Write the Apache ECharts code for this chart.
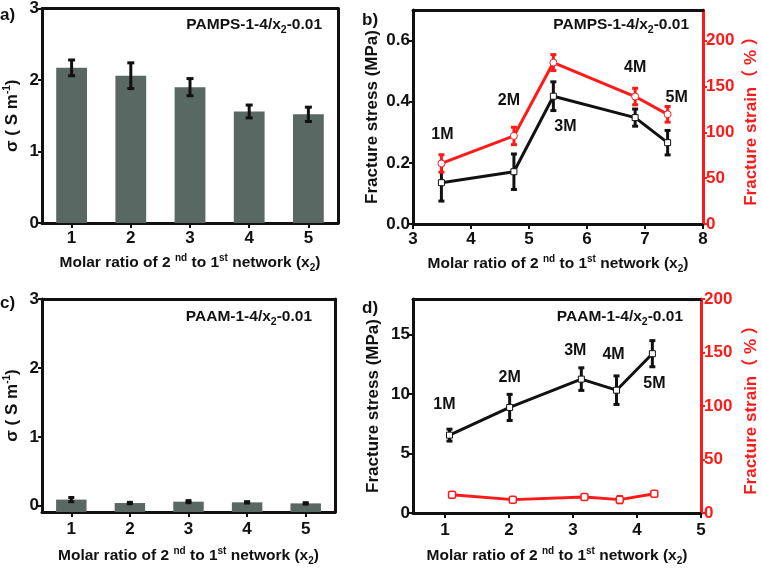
<!DOCTYPE html>
<html><head><meta charset="utf-8">
<script src="https://cdn.jsdelivr.net/npm/echarts@6/dist/echarts.min.js"></script>
<style>html,body{margin:0;padding:0;background:#fff}#c{width:762px;height:569px}</style>
</head><body><div id="c"></div>
<script>
// ---------- data ----------
// Panel a (PAMPS conductivity)
const barCats = ['1', '2', '3', '4', '5'];
const sigmaPAMPS = [2.17, 2.06, 1.90, 1.56, 1.52];
const sigmaPAMPSErr = [0.11, 0.18, 0.12, 0.09, 0.10];
// Panel c (PAAM conductivity)
const sigmaPAAM = [0.09, 0.04, 0.06, 0.05, 0.035];
const sigmaPAAMErr = [0.03, 0.01, 0.015, 0.01, 0.01];
// Panel b (PAMPS mechanics)
const molLabels = ['1M', '2M', '3M', '4M', '5M'];
const pampsX = [3.49, 4.74, 5.42, 6.83, 7.39];
const pampsStress = [0.135, 0.171, 0.418, 0.348, 0.266];
const pampsStressErr = [0.06, 0.058, 0.047, 0.028, 0.04];
const pampsStrain = [66, 96, 176, 139, 119.6];
const pampsStrainErr = [9.5, 9.5, 8.7, 9, 8.5];
// Panel d (PAAM mechanics)
const paamX = [1.07, 2.01, 3.13, 3.68, 4.24];
const paamStress = [6.55, 8.88, 11.26, 10.33, 13.4];
const paamStressErr = [0.5, 1.1, 0.95, 1.2, 1.1];
const paamStrainX = [1.11, 2.06, 3.18, 3.73, 4.27];
const paamStrain = [17, 12.5, 15, 12.5, 18];
const paamStrainErr = [2, 1.5, 1.5, 3, 2];
// axis ticks
const sigmaTicks = [0, 1, 2, 3];
const pampsStressTicks = [0, 0.2, 0.4, 0.6];
const strainTicks = [0, 50, 100, 150, 200];
const paamXTicks = [1, 2, 3, 4, 5];
const paamStressTicks = [0, 5, 10, 15];

// ---------- styles ----------
const FONT = '"Liberation Sans", Arial, "Noto Sans CJK SC", sans-serif';
const BLACK = '#111111';
const RED = '#ff1a1a';
const BAR = '#5a6864';
const TICK_FS = 17;
// label offsets (style) for the nM annotations
const bLabelOffsets = [[1, -48], [-5, -71], [12, 30], [0, -50], [9, -45]];
const dLabelOffsets = [[-5, -31], [0, -30], [-6, -29], [-3, -36], [2, 30]];

function nameStyle(color, fs) {
  return { color: color, fontFamily: FONT, fontWeight: 'bold', fontSize: fs, lineHeight: 20,
    rich: {
      sup: { fontSize: 10, fontWeight: 'bold', fontFamily: FONT, lineHeight: 10, verticalAlign: 'top', color: color },
      sub: { fontSize: 10, fontWeight: 'bold', fontFamily: FONT, lineHeight: 10, verticalAlign: 'bottom', color: color }
    } };
}
const xName = 'Molar ratio of 2 {sup|nd} to 1{sup|st} network (x{sub|2})';

function axisLine(color) { return { show: true, onZero: false, lineStyle: { color: color, width: 3 } }; }

function bottomX(grid, opts, gap) {
  return Object.assign({
    gridIndex: grid, position: 'bottom',
    axisLine: axisLine(BLACK),
    axisTick: { show: true, length: 5, lineStyle: { color: BLACK, width: 2 } },
    axisLabel: { color: BLACK, fontFamily: FONT, fontWeight: 'bold', fontSize: TICK_FS, margin: 7 },
    splitLine: { show: false },
    name: xName, nameLocation: 'middle', nameGap: gap, nameTextStyle: nameStyle(BLACK, 15.5)
  }, opts);
}
function frameX(grid) {
  return { gridIndex: grid, type: 'value', position: 'top', min: 0, max: 1,
    axisLine: axisLine(BLACK), axisTick: { show: false }, axisLabel: { show: false }, splitLine: { show: false } };
}
function frameY(grid) {
  return { gridIndex: grid, type: 'value', position: 'right', min: 0, max: 1,
    axisLine: axisLine(BLACK), axisTick: { show: false }, axisLabel: { show: false }, splitLine: { show: false } };
}
function valueY(grid, pos, color, min, max, ticks, fmt, name, gap) {
  return {
    gridIndex: grid, type: 'value', position: pos, min: min, max: max,
    axisLine: axisLine(color),
    axisTick: { show: true, length: 4, customValues: ticks, lineStyle: { color: color, width: 2 } },
    axisLabel: { color: color, fontFamily: FONT, fontWeight: 'bold', fontSize: TICK_FS, margin: 3,
      customValues: ticks, formatter: fmt },
    splitLine: { show: false },
    name: name, nameLocation: 'middle', nameGap: gap, nameTextStyle: nameStyle(color, 17)
  };
}

function barRender(params, api) {
  const i = api.value(0), v = api.value(1);
  const top = api.coord([i, v]);
  const w = api.size([1, 0])[0] * 0.52;
  const base = params.coordSys.y + params.coordSys.height;
  return { type: 'rect', shape: { x: top[0] - w / 2, y: top[1], width: w, height: base - top[1] },
    style: { fill: BAR } };
}
function errRender(color, cap, lw) {
  return function (params, api) {
    const x = api.value(0), y = api.value(1), e = api.value(2);
    const t = api.coord([x, y + e]), b = api.coord([x, y - e]);
    const st = { stroke: color, lineWidth: lw };
    return { type: 'group', children: [
      { type: 'line', shape: { x1: t[0], y1: t[1], x2: b[0], y2: b[1] }, style: st },
      { type: 'line', shape: { x1: t[0] - cap, y1: t[1], x2: t[0] + cap, y2: t[1] }, style: st },
      { type: 'line', shape: { x1: b[0] - cap, y1: b[1], x2: b[0] + cap, y2: b[1] }, style: st }
    ] };
  };
}
function triples(xs, ys, es) { return ys.map((y, i) => [xs[i], y, es[i]]); }
function idxTriples(ys, es) { return ys.map((y, i) => [i, y, es[i]]); }

const titleRich = { sub: { fontSize: 10.5, fontWeight: 'bold', fontFamily: FONT, color: BLACK, lineHeight: 10, verticalAlign: 'bottom' } };
function panelTitle(text, right, top) {
  return { text: text, right: right, top: top, padding: 0,
    textStyle: { color: BLACK, fontFamily: FONT, fontWeight: 'bold', fontSize: 15.5, lineHeight: 20, rich: titleRich } };
}
function letter(text, left, top) {
  return { text: text, left: left, top: top, padding: 0,
    textStyle: { color: BLACK, fontFamily: FONT, fontWeight: 'bold', fontSize: 17 } };
}

const fmt0 = v => String(v);
const fmt1 = v => v.toFixed(1);
const labelStyle = { color: BLACK, fontFamily: FONT, fontWeight: 'bold', fontSize: 16 };

const option = {
  animation: false,
  backgroundColor: '#fff',
  title: [
    panelTitle('PAMPS-1-4/x{sub|2}-0.01', 440, 15),
    panelTitle('PAMPS-1-4/x{sub|2}-0.01', 73, 15),
    panelTitle('PAAM-1-4/x{sub|2}-0.01', 450, 307),
    panelTitle('PAAM-1-4/x{sub|2}-0.01', 79, 307),
    letter('a)', 0, 7), letter('b)', 362, 12), letter('c)', 0, 295), letter('d)', 362, 300)
  ],
  grid: [
    { left: 42, top: 8, width: 296, height: 215 },
    { left: 413, top: 10, width: 293, height: 214 },
    { left: 42, top: 299, width: 293, height: 213 },
    { left: 413, top: 299, width: 291, height: 214 }
  ],
  xAxis: [
    bottomX(0, { type: 'category', data: barCats, boundaryGap: true,
      axisTick: { show: true, length: 5, alignWithLabel: true, lineStyle: { color: BLACK, width: 2 } } }, 30),
    frameX(0),
    bottomX(1, { type: 'value', min: 3, max: 8, interval: 1 }, 30),
    frameX(1),
    bottomX(2, { type: 'category', data: barCats, boundaryGap: true,
      axisTick: { show: true, length: 5, alignWithLabel: true, lineStyle: { color: BLACK, width: 2 } },
      axisLabel: { color: BLACK, fontFamily: FONT, fontWeight: 'bold', fontSize: TICK_FS, margin: 9 } }, 34),
    frameX(2),
    bottomX(3, { type: 'value', min: 0.5, max: 5,
      axisTick: { show: true, length: 5, customValues: paamXTicks, lineStyle: { color: BLACK, width: 2 } },
      axisLabel: { color: BLACK, fontFamily: FONT, fontWeight: 'bold', fontSize: TICK_FS, margin: 9, customValues: paamXTicks } }, 33),
    frameX(3)
  ],
  yAxis: [
    valueY(0, 'left', BLACK, 0, 3, sigmaTicks, fmt0, 'σ ( S m{sup|-1})', 20),
    frameY(0),
    valueY(1, 'left', BLACK, 0, 0.7, pampsStressTicks, fmt1, 'Fracture stress (MPa)', 28),
    valueY(1, 'right', RED, 0, 700 / 3, strainTicks, fmt0, 'Fracture strain（ % ）', 38),
    valueY(2, 'left', BLACK, -0.09, 3, sigmaTicks, fmt0, 'σ ( S m{sup|-1})', 20),
    frameY(2),
    valueY(3, 'left', BLACK, 0, 18, paamStressTicks, fmt0, 'Fracture stress (MPa)', 30),
    valueY(3, 'right', RED, 0, 200, strainTicks, fmt0, 'Fracture strain（ % ）', 40)
  ],
  series: [
    // panel a
    { type: 'custom', xAxisIndex: 0, yAxisIndex: 0, renderItem: barRender,
      data: idxTriples(sigmaPAMPS, sigmaPAMPSErr), encode: { x: 0, y: 1 }, z: 2 },
    { type: 'custom', xAxisIndex: 0, yAxisIndex: 0, renderItem: errRender(BLACK, 3.5, 3),
      data: idxTriples(sigmaPAMPS, sigmaPAMPSErr), encode: { x: 0, y: 1 }, z: 3 },
    // panel c
    { type: 'custom', xAxisIndex: 4, yAxisIndex: 4, renderItem: barRender,
      data: idxTriples(sigmaPAAM, sigmaPAAMErr), encode: { x: 0, y: 1 }, z: 2 },
    { type: 'custom', xAxisIndex: 4, yAxisIndex: 4, renderItem: errRender(BLACK, 3, 3),
      data: idxTriples(sigmaPAAM, sigmaPAAMErr), encode: { x: 0, y: 1 }, z: 3 },
    // panel b
    { type: 'custom', xAxisIndex: 2, yAxisIndex: 2, renderItem: errRender(BLACK, 3, 3),
      data: triples(pampsX, pampsStress, pampsStressErr), encode: { x: 0, y: 1 }, z: 3 },
    { type: 'custom', xAxisIndex: 2, yAxisIndex: 3, renderItem: errRender(RED, 3, 3),
      data: triples(pampsX, pampsStrain, pampsStrainErr), encode: { x: 0, y: 1 }, z: 3 },
    { type: 'line', xAxisIndex: 2, yAxisIndex: 2, z: 4,
      data: pampsStress.map((v, i) => ({ value: [pampsX[i], v],
        label: { show: true, formatter: molLabels[i], position: 'inside', offset: bLabelOffsets[i] } })),
      symbol: 'rect', symbolSize: 6, showAllSymbol: true,
      lineStyle: { color: BLACK, width: 3 },
      itemStyle: { color: '#fff', borderColor: BLACK, borderWidth: 1 },
      label: labelStyle },
    { type: 'line', xAxisIndex: 2, yAxisIndex: 3, z: 4,
      data: pampsStrain.map((v, i) => [pampsX[i], v]),
      symbol: 'circle', symbolSize: 7,
      lineStyle: { color: RED, width: 3 },
      itemStyle: { color: '#fff', borderColor: RED, borderWidth: 1 } },
    // panel d
    { type: 'custom', xAxisIndex: 6, yAxisIndex: 6, renderItem: errRender(BLACK, 3, 3),
      data: triples(paamX, paamStress, paamStressErr), encode: { x: 0, y: 1 }, z: 3 },
    { type: 'custom', xAxisIndex: 6, yAxisIndex: 7, renderItem: errRender(RED, 3, 3),
      data: triples(paamStrainX, paamStrain, paamStrainErr), encode: { x: 0, y: 1 }, z: 3 },
    { type: 'line', xAxisIndex: 6, yAxisIndex: 6, z: 4,
      data: paamStress.map((v, i) => ({ value: [paamX[i], v],
        label: { show: true, formatter: molLabels[i], position: 'inside', offset: dLabelOffsets[i] } })),
      symbol: 'rect', symbolSize: 6,
      lineStyle: { color: BLACK, width: 3 },
      itemStyle: { color: '#fff', borderColor: BLACK, borderWidth: 1 },
      label: labelStyle },
    { type: 'line', xAxisIndex: 6, yAxisIndex: 7, z: 4,
      data: paamStrain.map((v, i) => [paamStrainX[i], v]),
      symbol: 'roundRect', symbolSize: 7,
      lineStyle: { color: RED, width: 3 },
      itemStyle: { color: '#fff', borderColor: RED, borderWidth: 1.5 } }
  ]
};
const chart = echarts.init(document.getElementById('c'));
chart.setOption(option);
</script>
</body></html>
